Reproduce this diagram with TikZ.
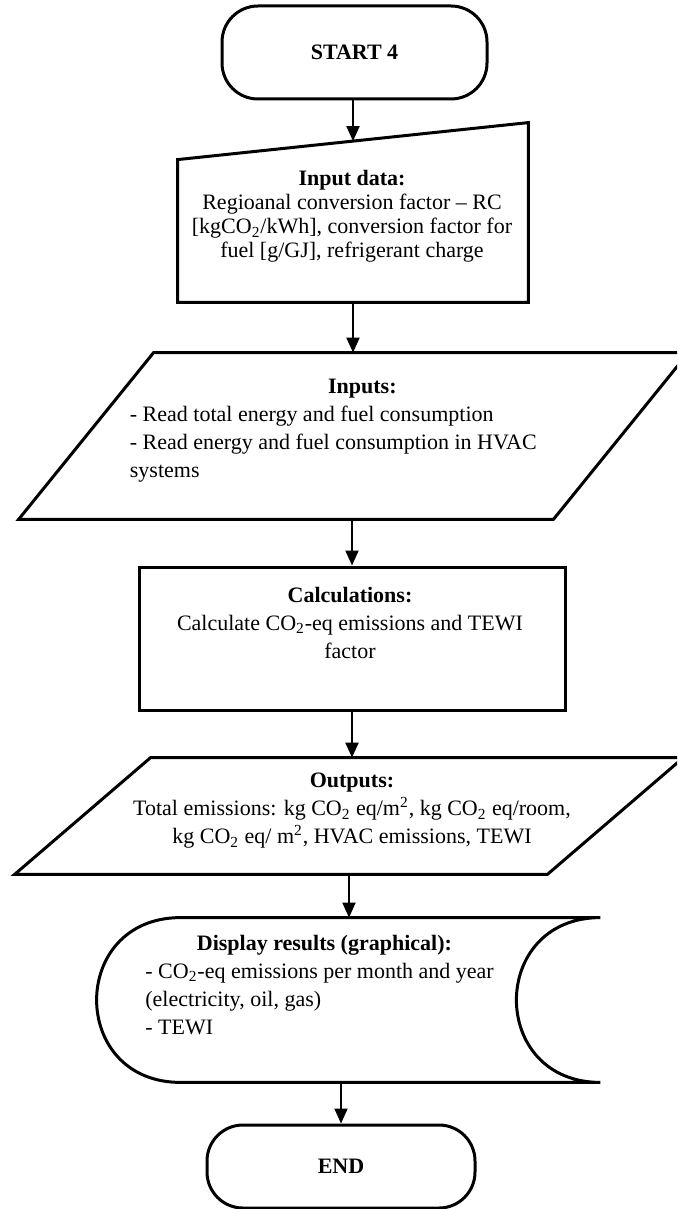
\documentclass[tikz,border=0pt]{standalone}
\usepackage{fontspec}
\setmainfont{Liberation Serif}
\usepackage{tikz}
\usetikzlibrary{arrows.meta, calc}

\begin{document}
\begin{tikzpicture}[x=0.5pt, y=-0.5pt, >={Triangle[length=7.5pt, width=6.5pt]},
    every node/.style={inner sep=0pt},
    outline/.style={line width=1.5pt},
    terminal/.style={draw, outline, rounded corners=18pt, font=\bfseries\fontsize{11}{13}\selectfont},
    txt/.style={align=center, font=\fontsize{11}{14}\selectfont},
    link/.style={->, line width=1pt}]

  \useasboundingbox (0,0) rectangle (677,1209);
  \clip (0,0) rectangle (677,1209);

  % start and end
  \node[terminal, minimum width=132.5pt, minimum height=46.5pt] (start) at (354.5,52.5) {START 4};
  \node[terminal, minimum width=134pt, minimum height=41.5pt] (end) at (341,1166.5) {END};

  % manual input, top edge drops to the left
  \node[minimum width=175pt, minimum height=89.5pt] (indata) at (353,212.5) {};
  \draw[outline] (indata.south west) -- (indata.south east) -- (indata.north east)
    -- ($(indata.north west)+(0,37)$) -- cycle;
  \coordinate (indata-in) at ($(indata.north)+(0,18.5)$);
  \node[txt, font=\fontsize{11}{12}\selectfont] (indata-txt) at (352,216.5)
    {\textbf{Input data:}\\ Regioanal conversion factor -- RC\\
     {[}kgCO\textsubscript{2}/kWh{]}, conversion factor for\\ fuel [g/GJ], refrigerant charge};

  % inputs
  \node[minimum width=267pt, minimum height=83pt] (inputs) at (353.5,436) {};
  \draw[outline] ($(inputs.north west)+(67.5,0)$) -- ($(inputs.north east)+(67.5,0)$)
    -- ($(inputs.south east)-(67.5,0)$) -- ($(inputs.south west)-(67.5,0)$) -- cycle;
  \node[txt, align=left, anchor=west] (inputs-txt) at (129.5,431)
    {\makebox[232.5pt]{\textbf{Inputs:}}\\ - Read total energy and fuel consumption\\
     - Read energy and fuel consumption in HVAC\\ systems};

  % calculations
  \node[draw, outline, minimum width=213pt, minimum height=71.5pt] (calc) at (352,638.5) {};
  \node[txt] (calc-txt) at (350,623)
    {\textbf{Calculations:}\\ Calculate CO\textsubscript{2}-eq emissions and TEWI\\ factor};

  % outputs
  \node[minimum width=266pt, minimum height=58pt] (outputs) at (349,816) {};
  \draw[outline] ($(outputs.north west)+(68,0)$) -- ($(outputs.north east)+(68,0)$)
    -- ($(outputs.south east)-(68,0)$) -- ($(outputs.south west)-(68,0)$) -- cycle;
  \node[txt] (outputs-txt) at (352,811)
    {\textbf{Outputs:}\\ Total emissions: kg CO\textsubscript{2} eq/m\textsuperscript{2}, kg CO\textsubscript{2} eq/room,\\
     kg CO\textsubscript{2} eq/ m\textsuperscript{2}, HVAC emissions, TEWI};

  % display
  \node[minimum width=209.5pt, minimum height=82pt] (results) at (390.5,1000) {};
  \draw[outline] (results.north west) -- (results.north east)
    .. controls +(-112,0) and +(-112,0) .. (results.south east)
    -- (results.south west)
    .. controls +(-112,0) and +(-112,0) .. (results.north west) -- cycle;
  \node[txt, align=left, anchor=west] (results-txt) at (145,985)
    {\makebox[179pt]{\textbf{Display results (graphical):}}\\
     - CO\textsubscript{2}-eq emissions per month and year\\ (electricity, oil, gas)\\ - TEWI};

  % arrows
  \draw[link] (indata-in |- start.south) -- (indata-in);
  \draw[link] (indata.south) -- (indata.south |- inputs.north);
  \draw[link] (calc.north |- inputs.south) -- (calc.north);
  \draw[link] (calc.south) -- (calc.south |- outputs.north);
  \draw[link] (outputs.south) -- (outputs.south |- results.north);
  \draw[link] (end.north |- results.south) -- (end.north);
\end{tikzpicture}
\end{document}
